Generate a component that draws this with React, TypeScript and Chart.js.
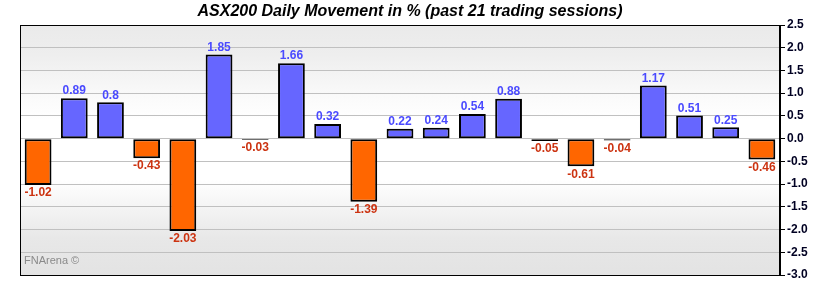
import React, { useEffect, useRef } from "react";
import { Chart, registerables } from "chart.js";

Chart.register(...registerables);

const TITLE = "ASX200 Daily Movement in % (past 21 trading sessions)";
const sessions = ["1","2","3","4","5","6","7","8","9","10","11","12","13","14","15","16","17","18","19","20","21"];
const movement = [-1.02, 0.89, 0.8, -0.43, -2.03, 1.85, -0.03, 1.66, 0.32, -1.39, 0.22, 0.24, 0.54, 0.88, -0.05, -0.61, -0.04, 1.17, 0.51, 0.25, -0.46];
const yMin = -3;
const yMax = 2.5;
const yStep = 0.5;

const POS_FILL = "#6666ff";
const NEG_FILL = "#ff6600";
const POS_TEXT = "#4a4aff";
const NEG_TEXT = "#cc3311";

const decorPlugin = {
  id: "decor",
  beforeDraw(chart: any) {
    const { ctx, chartArea: a } = chart;
    ctx.save();
    const g = ctx.createLinearGradient(0, a.top, 0, a.bottom);
    g.addColorStop(0, "#eaeaea");
    g.addColorStop(0.12, "#eeeeee");
    g.addColorStop(0.3, "#fbfbfb");
    g.addColorStop(0.38, "#ffffff");
    g.addColorStop(0.62, "#ffffff");
    g.addColorStop(0.85, "#e8e8e8");
    g.addColorStop(1, "#e3e3e3");
    ctx.fillStyle = g;
    ctx.fillRect(a.left, a.top, a.right - a.left, a.bottom - a.top);
    ctx.restore();
  },
  afterDatasetsDraw(chart: any) {
    const { ctx, chartArea: a } = chart;
    const meta = chart.getDatasetMeta(0);
    ctx.save();
    ctx.font = "bold 12px 'Liberation Sans', Arial, sans-serif";
    ctx.textAlign = "center";
    meta.data.forEach((bar: any, i: number) => {
      const v = movement[i];
      const txt = String(v);
      if (v >= 0) {
        ctx.fillStyle = POS_TEXT;
        ctx.textBaseline = "bottom";
        ctx.fillText(txt, bar.x, bar.y - 1);
      } else {
        ctx.fillStyle = NEG_TEXT;
        ctx.textBaseline = "top";
        ctx.fillText(txt, bar.x, bar.y + 2);
      }
    });
    // watermark
    ctx.fillStyle = "#8a8a8a";
    ctx.font = "11px 'Liberation Sans', Arial, sans-serif";
    ctx.textAlign = "left";
    ctx.textBaseline = "middle";
    ctx.fillText("FNArena \u00a9", a.left + 4, a.bottom - 14);
    // border
    ctx.strokeStyle = "#000000";
    ctx.lineWidth = 1;
    ctx.strokeRect(Math.round(a.left) + 0.5, Math.round(a.top) + 0.5, Math.round(a.right - a.left) - 1, Math.round(a.bottom - a.top));
    // title
    ctx.fillStyle = "#000000";
    ctx.font = "italic bold 16px 'Liberation Sans', Arial, sans-serif";
    ctx.textAlign = "center";
    ctx.textBaseline = "middle";
    ctx.fillText(TITLE, chart.width / 2, 12);
    ctx.restore();
  },
};

export default function App() {
  const ref = useRef<HTMLCanvasElement | null>(null);
  useEffect(() => {
    document.body.style.margin = "0";
    const canvas = ref.current;
    if (!canvas) return;
    const chart = new Chart(canvas, {
      type: "bar",
      data: {
        labels: sessions,
        datasets: [
          {
            data: movement,
            backgroundColor: movement.map((v) => (v >= 0 ? POS_FILL : NEG_FILL)),
            borderColor: "#000000",
            borderWidth: 2,
            borderSkipped: false,
            barPercentage: 0.74,
            categoryPercentage: 1,
          },
        ],
      },
      options: {
        animation: false,
        responsive: false,
        maintainAspectRatio: false,
        layout: { padding: { left: 20, top: 25, bottom: 15, right: 0 } },
        plugins: {
          legend: { display: false },
          title: { display: false },
          tooltip: { enabled: false },
        },
        scales: {
          x: {
            display: false,
            offset: true,
          },
          y: {
            position: "right",
            min: yMin,
            max: yMax,
            afterFit(scale: any) {
              scale.width = 40;
            },
            grid: {
              color: "#c0c0c0",
              lineWidth: 1,
              drawTicks: true,
              tickLength: 5,
              tickColor: "#000000",
            },
            border: { display: true, color: "#000000" },
            ticks: {
              stepSize: yStep,
              padding: 2,
              color: "#000022",
              font: { family: "'Liberation Sans', Arial, sans-serif", size: 12, weight: "bold" },
              callback: (v: any) => Number(v).toFixed(1),
            },
          },
        },
      },
      plugins: [decorPlugin],
    });
    return () => chart.destroy();
  }, []);
  return (
    <div style={{ width: 820, height: 290 }}>
      <canvas ref={ref} width={820} height={290} style={{ display: "block" }} />
    </div>
  );
}
